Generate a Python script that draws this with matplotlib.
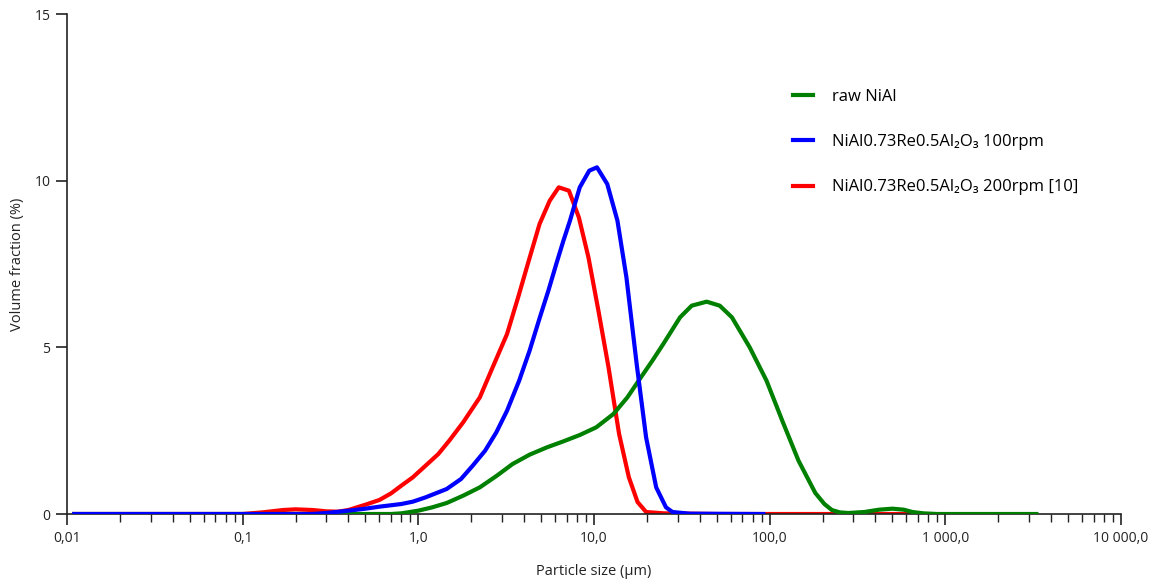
import matplotlib

matplotlib.use("Agg")
import matplotlib.pyplot as plt
from matplotlib.ticker import FixedLocator, LogLocator, NullFormatter

plt.rcParams["font.family"] = ["Open Sans", "DejaVu Sans"]

# particle size (um) / volume fraction (%)
raw_x = [0.011, 0.7, 0.8, 1.0, 1.2, 1.45, 1.8, 2.24, 2.8, 3.44, 4.3, 5.4, 6.7, 8.3,
         10.3, 12.9, 15.5, 18.5, 21.5, 24.8, 30.9, 36, 43.8, 52, 61, 77, 96, 118,
         146, 182, 205, 226, 250, 280, 346, 420, 500, 580, 650, 750, 900, 3300]
raw_y = [0, 0, 0.02, 0.1, 0.2, 0.33, 0.55, 0.8, 1.15, 1.5, 1.78, 2.0, 2.18, 2.37,
         2.6, 3.0, 3.5, 4.1, 4.6, 5.1, 5.9, 6.25, 6.37, 6.25, 5.9, 5.0, 4.0, 2.8,
         1.6, 0.63, 0.3, 0.12, 0.05, 0.03, 0.06, 0.13, 0.16, 0.13, 0.06, 0.02, 0, 0]

r100_x = [0.011, 0.25, 0.3, 0.4, 0.5, 0.6, 0.8, 0.93, 1.1, 1.45, 1.75, 2.04, 2.4,
          2.78, 3.2, 3.75, 4.3, 4.92, 5.5, 6.1, 6.7, 7.3, 8.3, 9.4, 10.4, 11.9,
          13.6, 15.3, 17.5, 19.8, 22.6, 25.7, 28, 35, 92]
r100_y = [0, 0, 0.03, 0.1, 0.16, 0.22, 0.3, 0.37, 0.5, 0.75, 1.05, 1.45, 1.9,
          2.45, 3.1, 4.0, 4.9, 5.9, 6.7, 7.5, 8.2, 8.8, 9.8, 10.3, 10.4, 9.9,
          8.8, 7.1, 4.5, 2.3, 0.8, 0.2, 0.06, 0.01, 0]

r200_x = [0.011, 0.1, 0.13, 0.17, 0.2, 0.25, 0.3, 0.35, 0.4, 0.5, 0.6, 0.7, 0.8,
          0.93, 1.1, 1.3, 1.5, 1.8, 2.24, 2.6, 3.2, 3.7, 4.2, 4.9, 5.6, 6.3, 7.2,
          8.2, 9.3, 10.6, 12.1, 13.9, 15.8, 17.7, 19.8, 25, 50, 100, 650]
r200_y = [0, 0, 0.05, 0.12, 0.14, 0.12, 0.08, 0.07, 0.12, 0.28, 0.42, 0.62, 0.85,
          1.1, 1.45, 1.8, 2.2, 2.75, 3.5, 4.3, 5.4, 6.5, 7.5, 8.7, 9.4, 9.8, 9.7,
          8.9, 7.7, 6.1, 4.4, 2.4, 1.1, 0.36, 0.06, 0.02, 0, 0, 0]

x_ticks = [0.01, 0.1, 1, 10, 100, 1000, 10000]
x_labels = ["0,01", "0,1", "1,0", "10,0", "100,0", "1 000,0", "10 000,0"]
y_ticks = [0, 5, 10, 15]

fig = plt.figure(figsize=(11.49, 5.81), dpi=100)
ax = fig.add_axes([0.0583, 0.1153, 0.9173, 0.8606])

lw = 3.0
l_red, = ax.plot(r200_x, r200_y, color="#ff0000", lw=lw, zorder=2,
                 label="NiAl0.73Re0.5Al₂O₃ 200rpm [10]")
l_grn, = ax.plot(raw_x, raw_y, color="#008000", lw=lw, zorder=3, label="raw NiAl")
l_blu, = ax.plot(r100_x, r100_y, color="#0000ff", lw=lw, zorder=4,
                 label="NiAl0.73Re0.5Al₂O₃ 100rpm")

ax.set_xscale("log")
ax.set_xlim(0.01, 10000)
ax.set_ylim(0, 15)
ax.xaxis.set_major_locator(FixedLocator(x_ticks))
ax.set_xticklabels(x_labels)
ax.xaxis.set_minor_locator(LogLocator(base=10, subs=range(2, 10), numticks=20))
ax.xaxis.set_minor_formatter(NullFormatter())
ax.set_yticks(y_ticks)
ax.set_yticklabels([str(v) for v in y_ticks])

for s in ("top", "right"):
    ax.spines[s].set_visible(False)
for s in ("left", "bottom"):
    ax.spines[s].set_color("#222222")
    ax.spines[s].set_linewidth(1.2)
ax.tick_params(axis="both", which="major", direction="out", length=8, width=1.2,
               colors="#222222", labelsize=10, pad=4)
ax.tick_params(axis="x", which="minor", direction="out", length=6, width=1.0,
               colors="#222222")

ax.set_xlabel("Particle size (µm)", fontsize=10.5, color="#222222")
ax.set_ylabel("Volume fraction (%)", fontsize=10.5, color="#222222")
ax.xaxis.set_label_coords(0.5, -0.114, transform=ax.transAxes)
ax.yaxis.set_label_coords(-0.0465, 0.5, transform=ax.transAxes)
ax.xaxis.label.set_va("center")
ax.yaxis.label.set_va("center")

leg = ax.legend(handles=[l_grn, l_blu, l_red], loc="upper left",
                bbox_to_anchor=(0.675, 0.88), frameon=False, fontsize=12,
                handlelength=1.2, handletextpad=1.1, labelspacing=1.75)

fig.savefig("out.png", dpi=100)
